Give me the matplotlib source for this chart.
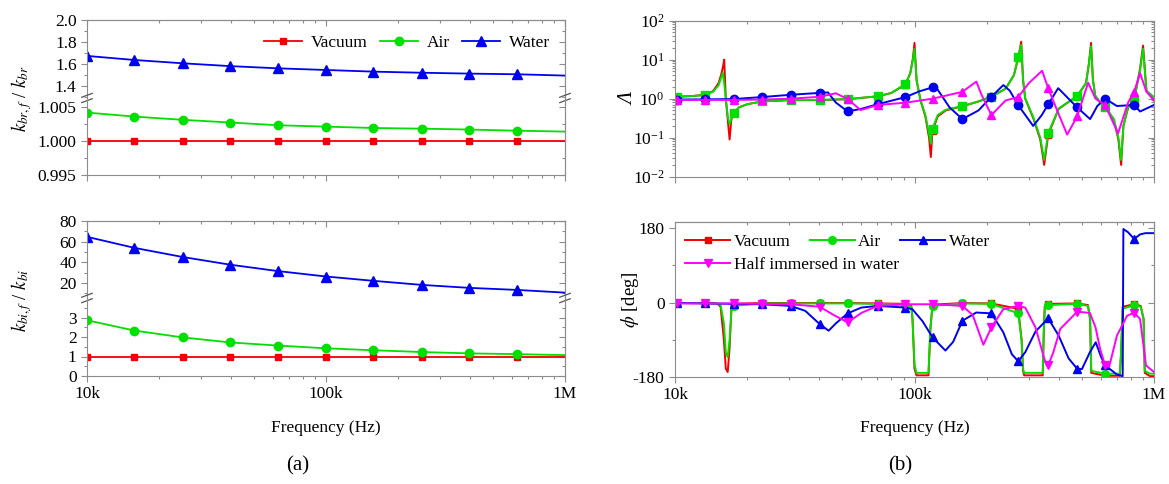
import numpy as np
import matplotlib
matplotlib.use('Agg')
import matplotlib.pyplot as plt
from matplotlib.ticker import MultipleLocator, FixedLocator, FormatStrFormatter, NullFormatter

plt.rcParams['font.family'] = ['Liberation Serif', 'DejaVu Serif']
plt.rcParams['mathtext.fontset'] = 'stix'
plt.rcParams['axes.unicode_minus'] = False

# ---------------- (a) stiffness ratios, frequency in kHz ----------------
freq_a = [10, 15.8, 25.1, 39.8, 63.1, 100, 158, 251, 398, 631, 1000]
kbr_vacuum = [1.0, 1.0, 1.0, 1.0, 1.0, 1.0, 1.0, 1.0, 1.0, 1.0, 1.0]
kbr_air = [1.00416, 1.00357, 1.0031, 1.0027, 1.0023, 1.0021, 1.0019, 1.0018, 1.00167, 1.0015, 1.00137]
kbr_water = [1.673, 1.636, 1.606, 1.58, 1.56, 1.545, 1.53, 1.52, 1.512, 1.506, 1.494]
kbi_vacuum = [1.0, 1.0, 1.0, 1.0, 1.0, 1.0, 1.0, 1.0, 1.0, 1.0, 1.0]
kbi_air = [2.86, 2.33, 1.98, 1.72, 1.56, 1.42, 1.32, 1.23, 1.16, 1.12, 1.07]
kbi_water = [64.7, 54.0, 45.2, 37.7, 31.5, 26.3, 22.1, 18.2, 15.3, 13.3, 10.7]

# ---------------- (b) response ratios, frequency in kHz ----------------
# frequencies where the symbols sit (same for every curve)
freq_mk = [10.2, 13.3, 17.6, 23.0, 30.4, 40.2, 52.6, 70.1, 91.7, 118.9, 158.5,
           209.4, 271.1, 361.6, 477.6, 625.1, 826.0]

# amplitude ratio
freq_amp_fluid = [10.0, 10.2, 12.0, 13.3, 14.4, 15.2, 15.6, 15.85, 16.05, 16.3, 16.6,
                  16.9, 17.2, 17.6, 18.5, 20.0, 23.0, 30.4, 40.2, 52.6, 70.1, 80.0,
                  91.7, 96.0, 98.5, 100.0, 102.0, 106.0, 111.0, 115.0, 117.0, 118.9, 125.0,
                  135.0, 158.5, 185.0, 209.4, 240.0, 260.0, 271.1, 279.0, 284.0, 290.0, 313.0,
                  335.0, 348.0, 361.6, 400.0, 477.6, 520.0, 535.0, 546.0, 556.0, 568.0, 595.0,
                  625.1, 680.0, 710.0, 729.0, 745.0, 780.0, 826.0, 875.0, 900.0, 930.0, 1000.0]
amp_vacuum = [1.1, 1.12, 1.18, 1.26, 1.55, 2.5, 4.2, 6.5, 10.0, 1.0, 0.3,
              0.09, 0.3, 0.42, 0.6, 0.72, 0.85, 0.92, 0.92, 0.97, 1.15, 1.4,
              2.3, 4.5, 11.0, 27.0, 3.0, 0.9, 0.35, 0.1, 0.032, 0.15, 0.35,
              0.5, 0.64, 0.85, 1.12, 1.8, 4.0, 11.0, 29.0, 3.0, 1.0, 0.32,
              0.09, 0.02, 0.12, 0.55, 1.17, 2.5, 8.0, 27.0, 3.0, 1.2, 0.8,
              0.62, 0.28, 0.09, 0.02, 0.2, 0.6, 0.93, 6.0, 23.0, 1.6, 0.9]
amp_air = [1.1, 1.12, 1.18, 1.24, 1.5, 2.2, 3.5, 4.6, 2.5, 1.0, 0.35,
           0.22, 0.3, 0.44, 0.6, 0.72, 0.85, 0.93, 0.93, 0.98, 1.15, 1.4,
           2.4, 4.5, 10.0, 19.0, 3.0, 0.9, 0.38, 0.13, 0.07, 0.17, 0.38,
           0.52, 0.65, 0.85, 1.12, 1.8, 4.0, 12.0, 24.0, 3.0, 1.0, 0.34,
           0.1, 0.027, 0.13, 0.56, 1.17, 2.5, 8.0, 22.0, 3.0, 1.2, 0.8,
           0.63, 0.3, 0.1, 0.027, 0.2, 0.6, 0.93, 5.5, 19.0, 1.6, 1.1]
freq_amp_water = [10.0, 10.2, 13.3, 17.6, 23.0, 30.4, 40.2, 43.5, 46.9, 52.6, 60.0,
                  70.1, 91.7, 105.0, 118.9, 125.0, 140.0, 158.5, 185.0, 209.4, 235.0, 250.0,
                  271.1, 313.0, 340.0, 361.6, 398.0, 430.0, 477.6, 541.0, 580.0, 625.1, 700.0,
                  826.0, 875.0, 1000.0]
amp_water = [0.95, 0.95, 0.96, 0.98, 1.1, 1.26, 1.41, 1.45, 0.8, 0.47, 0.55,
             0.72, 1.1, 1.55, 1.95, 1.7, 0.6, 0.3, 0.5, 1.12, 2.24, 1.6,
             0.68, 0.2, 0.38, 0.72, 1.86, 1.15, 0.6, 0.3, 0.65, 1.0, 0.65,
             0.69, 0.47, 0.69]
freq_amp_half = [10.0, 10.2, 13.3, 17.6, 23.0, 30.4, 40.2, 46.9, 52.6, 59.6, 70.1,
                 91.7, 118.9, 158.5, 181.3, 190.0, 209.4, 240.0, 271.1, 300.0, 341.0, 361.6,
                 400.0, 434.0, 477.6, 531.0, 570.0, 625.1, 708.0, 780.0, 826.0, 875.0, 930.0,
                 1000.0]
amp_half = [0.93, 0.93, 0.93, 0.93, 0.95, 1.0, 1.12, 1.38, 0.98, 0.51, 0.69,
            0.79, 1.0, 1.5, 2.75, 1.3, 0.38, 0.9, 1.1, 2.5, 5.2, 1.86,
            0.4, 0.12, 0.35, 2.57, 1.0, 0.69, 0.13, 0.8, 1.5, 4.5, 1.5,
            0.93]

# phase (deg)
freq_ph_fluid = [10.0, 10.2, 13.3, 15.0, 15.5, 16.0, 16.3, 16.6, 16.9, 17.2, 17.6,
                 23.0, 30.4, 40.2, 52.6, 70.1, 91.7, 97.0, 98.1, 100.0, 101.9, 114.4,
                 116.6, 118.9, 158.5, 209.4, 271.1, 280.0, 284.0, 287.0, 343.0, 347.0, 350.0,
                 361.6, 477.6, 530.0, 541.0, 547.0, 625.1, 720.0, 729.0, 740.0, 826.0, 880.0,
                 905.0, 915.0, 962.0, 1000.0]
ph_vacuum = [-1, -1, -1, -2, -10, -90, -160, -168, -110, -15, -3,
             -1, -1, -1, -1, -2, -3, -8, -40, -160, -176, -176,
             -60, -5, -1, -2, -15, -90, -165, -176, -176, -60, -8,
             -3, -2, -6, -40, -170, -177, -177, -120, -10, -4, -8,
             -40, -170, -178, -178]
ph_air = [-1, -1, -1, -2, -6, -50, -120, -132, -90, -20, -8,
          -2, -2, -2, -2, -3, -5, -10, -40, -150, -170, -170,
          -60, -8, -2, -3, -26, -90, -160, -170, -170, -60, -10,
          -6, -3, -8, -40, -165, -172, -172, -120, -15, -6, -10,
          -40, -165, -172, -172]
freq_ph_water = [10.0, 10.2, 13.3, 17.6, 23.0, 30.4, 35.0, 40.2, 43.8, 47.0, 52.6,
                 60.0, 70.1, 91.7, 98.0, 108.0, 118.9, 134.6, 145.0, 158.5, 181.0, 209.4,
                 234.9, 255.0, 271.1, 290.0, 320.0, 361.6, 400.0, 440.0, 477.6, 500.0, 540.0,
                 571.0, 600.0, 625.1, 700.0, 740.0, 745.0, 780.0, 826.0, 875.0, 920.0, 1000.0]
ph_water = [-1, -1, -2, -3, -4, -8, -20, -52, -68, -50, -26,
            -12, -8, -12, -16, -45, -84, -116, -95, -44, -24, -26,
            -72, -125, -142, -120, -70, -38, -80, -135, -160, -161, -120,
            -96, -130, -152, -174, -178, 178, 170, 154, 165, 168, 168]
freq_ph_half = [10.0, 10.2, 13.3, 17.6, 23.0, 30.4, 40.2, 46.0, 52.6, 60.0, 70.1,
                91.7, 118.9, 158.5, 175.0, 193.9, 209.4, 234.9, 271.1, 290.0, 320.0, 350.0,
                361.6, 380.0, 405.8, 477.6, 540.0, 570.0, 595.7, 625.1, 650.0, 700.0, 772.0,
                826.0, 875.0, 926.0, 1000.0]
ph_half = [-2, -2, -2, -2, -3, -4, -10, -30, -48, -25, -8,
           -4, -4, -8, -30, -102, -60, -16, -8, -12, -60, -140,
           -152, -120, -64, -22, -25, -60, -112, -152, -155, -80, -32,
           -24, -40, -152, -168]

RED, GREEN, BLUE, MAGENTA = '#f00000', '#00e000', '#0000f0', '#ff00ff'
GREY = '#8c8c8c'
FS = 12.5

W_PX, H_PX = 1169, 484
fig = plt.figure(figsize=(W_PX / 100, H_PX / 100), dpi=100)


def box(x0, x1, y0, y1):
    # pixel box (top-left origin) -> figure fraction
    return [x0 / W_PX, 1 - y1 / H_PX, (x1 - x0) / W_PX, (y1 - y0) / H_PX]


def style(ax):
    ax.set_xscale('log')
    ax.set_xlim(1e4, 1e6)
    for s in ax.spines.values():
        s.set_color(GREY)
        s.set_linewidth(0.8)
    ax.tick_params(which='both', direction='out', color=GREY, labelsize=FS,
                   labelcolor='k', width=0.8)
    ax.tick_params(which='major', length=4)
    ax.tick_params(which='minor', length=2.5)
    ax.set_xticks([1e4, 1e5, 1e6], ['10k', '100k', '1M'])
    ax.xaxis.set_minor_formatter(NullFormatter())
    ax.tick_params(axis='x', labelbottom=False)


def inward(sec):
    sec.tick_params(which='both', direction='in', color=GREY, width=0.8)
    sec.tick_params(which='major', length=4)
    sec.tick_params(which='minor', length=2.5)
    for s in sec.spines.values():
        s.set_color(GREY)
        s.set_linewidth(0.8)


def mirror_top(ax):
    sec = ax.secondary_xaxis('top')
    sec.tick_params(which='both', labeltop=False)
    inward(sec)


def mirror_right(ax, major=None, minor=None):
    sec = ax.secondary_yaxis('right')
    sec.tick_params(which='both', labelright=False)
    if major is not None:
        sec.yaxis.set_major_locator(major)
        sec.yaxis.set_minor_locator(minor)
    inward(sec)


def break_marks(ax):
    for x in (0, 1):
        for dy in (-0.035, 0.035):
            ax.plot([x - 0.011, x + 0.011], [1 + dy - 0.025, 1 + dy + 0.025],
                    transform=ax.transAxes, color='#555555', lw=0.9, clip_on=False)


def broken_pair(y_top, y_mid, y_bot, lim_up, lim_lo, tick_up, tick_lo, fmt_up, fmt_lo):
    up = fig.add_axes(box(87, 565, y_top, y_mid))
    lo = fig.add_axes(box(87, 565, y_mid, y_bot))
    for ax in (up, lo):
        style(ax)
    up.spines['bottom'].set_visible(False)
    up.tick_params(axis='x', which='both', bottom=False)
    lo.spines['top'].set_visible(False)
    up.set_ylim(*lim_up)
    lo.set_ylim(*lim_lo)
    up.yaxis.set_major_locator(MultipleLocator(tick_up[0]))
    up.yaxis.set_minor_locator(MultipleLocator(tick_up[1]))
    lo.yaxis.set_major_locator(FixedLocator(tick_lo[0]))
    lo.yaxis.set_minor_locator(FixedLocator(tick_lo[1]))
    up.yaxis.set_major_formatter(FormatStrFormatter(fmt_up))
    lo.yaxis.set_major_formatter(FormatStrFormatter(fmt_lo))
    mirror_top(up)
    mirror_right(up, MultipleLocator(tick_up[0]), MultipleLocator(tick_up[1]))
    mirror_right(lo, FixedLocator(tick_lo[0]), FixedLocator(tick_lo[1]))
    break_marks(lo)
    return up, lo


f_a = np.array(freq_a) * 1e3
mk_a = list(range(len(freq_a) - 1))
STYLE_A = {'Vacuum': (RED, 's', 5), 'Air': (GREEN, 'o', 6), 'Water': (BLUE, '^', 6.5)}


def draw_a(ax, name, vals):
    c, m, ms = STYLE_A[name]
    return ax.plot(f_a, vals, color=c, lw=1.3, marker=m, ms=ms, markevery=mk_a, label=name)[0]


# ---------------- panel (a) ----------------
ax_br_up, ax_br_lo = broken_pair(20, 98, 175, (1.29, 2.0), (0.995, 1.0063),
                                 (0.2, 0.1),
                                 ([0.995, 1.0, 1.005], [0.9975, 1.0025]),
                                 '%.1f', '%.3f')
ax_bi_up, ax_bi_lo = broken_pair(221, 298, 376, (5.5, 80), (0, 4.0),
                                 (20, 10),
                                 ([0, 1, 2, 3], [0.5, 1.5, 2.5, 3.5]),
                                 '%d', '%d')
h_vac = draw_a(ax_br_lo, 'Vacuum', kbr_vacuum)
h_air = draw_a(ax_br_lo, 'Air', kbr_air)
h_wat = draw_a(ax_br_up, 'Water', kbr_water)
draw_a(ax_bi_lo, 'Vacuum', kbi_vacuum)
draw_a(ax_bi_lo, 'Air', kbi_air)
draw_a(ax_bi_up, 'Water', kbi_water)

ax_br_up.legend([h_vac, h_air, h_wat], ['Vacuum', 'Air', 'Water'],
                loc='center right', bbox_to_anchor=(0.969, 0.70), ncol=3, frameon=False,
                fontsize=FS, handlelength=2.2, handletextpad=0.5, columnspacing=0.7,
                borderpad=0, borderaxespad=0)
ax_bi_lo.tick_params(axis='x', labelbottom=True)
ax_bi_lo.set_xlabel('Frequency (Hz)', fontsize=FS)
ax_bi_lo.xaxis.set_label_coords(0.5, -0.56)

fig.text(22 / W_PX, 1 - 99 / H_PX, '$k_{br,f}$ / $k_{br}$', rotation=90,
         ha='center', va='center', fontsize=FS + 1)
fig.text(22 / W_PX, 1 - 300 / H_PX, '$k_{bi,f}$ / $k_{bi}$', rotation=90,
         ha='center', va='center', fontsize=FS + 1)

# ---------------- panel (b) ----------------
ax_amp = fig.add_axes(box(675, 1154, 20.7, 176.7))
ax_ph = fig.add_axes(box(675, 1154, 222, 377))
for ax in (ax_amp, ax_ph):
    style(ax)

ax_amp.set_yscale('log')
ax_amp.set_ylim(1e-2, 1e2)
ax_ph.set_ylim(-180, 195)
ax_ph.yaxis.set_major_locator(FixedLocator([-180, 0, 180]))
ax_ph.yaxis.set_minor_locator(FixedLocator([-90, 90]))
mirror_top(ax_amp)
mirror_right(ax_amp)
mirror_top(ax_ph)
mirror_right(ax_ph, FixedLocator([-180, 0, 180]), FixedLocator([-90, 90]))


def mk_index(freqs):
    return [i for i, f in enumerate(freqs) if f in freq_mk]


def curve(ax, freqs, vals, color, marker, ms, label=None):
    ax.plot(np.array(freqs) * 1e3, vals, color=color, lw=1.4, marker=marker, ms=ms,
            markevery=mk_index(freqs), label=label)


curve(ax_amp, freq_amp_fluid, amp_vacuum, RED, 's', 5)
curve(ax_amp, freq_amp_fluid, amp_air, GREEN, 's', 5.5)
curve(ax_amp, freq_amp_water, amp_water, BLUE, 'o', 6)
curve(ax_amp, freq_amp_half, amp_half, MAGENTA, '^', 6)

curve(ax_ph, freq_ph_fluid, ph_vacuum, RED, 's', 5, 'Vacuum')
curve(ax_ph, freq_ph_fluid, ph_air, GREEN, 'o', 5.5, 'Air')
curve(ax_ph, freq_ph_water, ph_water, BLUE, '^', 6, 'Water')
curve(ax_ph, freq_ph_half, ph_half, MAGENTA, 'v', 6, 'Half immersed in water')

ax_amp.set_ylabel('Λ', fontsize=FS + 2, style='italic')
ax_amp.yaxis.set_label_coords(-0.077, 0.5)
ax_ph.set_ylabel('$\\phi$ [deg]', fontsize=FS + 1)
ax_ph.yaxis.set_label_coords(-0.072, 0.5)
ax_ph.tick_params(axis='x', labelbottom=True)
ax_ph.set_xlabel('Frequency (Hz)', fontsize=FS)
ax_ph.xaxis.set_label_coords(0.5, -0.28)

handles, labels = ax_ph.get_legend_handles_labels()
leg_kw = dict(frameon=False, fontsize=FS, handlelength=2.6, handletextpad=0.2,
              columnspacing=1.1, borderpad=0, borderaxespad=0, loc='center left')
leg1 = ax_ph.legend(handles[:3], labels[:3], ncol=3, bbox_to_anchor=(0.021, 0.871), **leg_kw)
ax_ph.add_artist(leg1)
ax_ph.legend(handles[3:], labels[3:], bbox_to_anchor=(0.021, 0.723), **leg_kw)

fig.text(298 / W_PX, 1 - 466 / H_PX, '(a)', ha='center', va='center', fontsize=15)
fig.text(900 / W_PX, 1 - 466 / H_PX, '(b)', ha='center', va='center', fontsize=15)

fig.savefig('out.png', dpi=100)
